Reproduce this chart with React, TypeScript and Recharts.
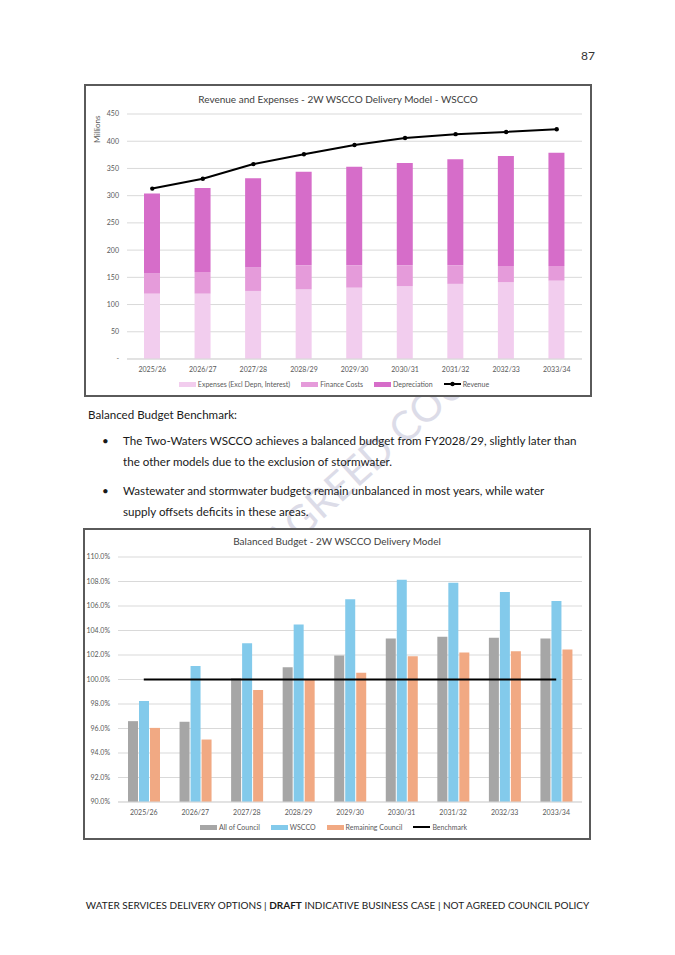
import React from 'react';
import { ComposedChart, Bar, Line, XAxis, YAxis, CartesianGrid, Legend } from 'recharts';

const years = ['2025/26', '2026/27', '2027/28', '2028/29', '2029/30', '2030/31', '2031/32', '2032/33', '2033/34'];

// chart 1 (Millions)
const expenses = [120, 120, 125, 128, 131, 134, 138, 141, 144];
const financeCosts = [37, 40, 43, 44, 41, 38, 34, 30, 27];
const depreciation = [147, 154, 164, 172, 181, 188, 195, 202, 208];
const revenue = [313, 331, 358, 376, 393, 406, 413, 417, 422];
const revTicks = [0, 50, 100, 150, 200, 250, 300, 350, 400, 450];
const revLegend = ['Expenses (Excl Depn, Interest)', 'Finance Costs', 'Depreciation', 'Revenue'];

// chart 2 (%)
const allCouncil = [96.6, 96.55, 100.1, 101.0, 101.95, 103.35, 103.5, 103.4, 103.35];
const wscco = [98.25, 101.1, 102.95, 104.5, 106.55, 108.15, 107.9, 107.15, 106.4];
const remainingCouncil = [96.05, 95.1, 99.15, 100.0, 100.55, 101.9, 102.2, 102.3, 102.45];
const benchmark = [100, 100, 100, 100, 100, 100, 100, 100, 100];
const pctTicks = [90, 92, 94, 96, 98, 100, 102, 104, 106, 108, 110];
const budgetLegend = ['All of Council', 'WSCCO', 'Remaining Council', 'Benchmark'];

const revData = years.map((y, i) => ({
  year: y,
  expenses: expenses[i],
  finance: financeCosts[i],
  depreciation: depreciation[i],
  revenue: revenue[i],
}));

const budgetData = years.map((y, i) => ({
  year: y,
  all: allCouncil[i],
  wscco: wscco[i],
  remaining: remainingCouncil[i],
  benchmark: benchmark[i],
}));

const FONT = 'Lato, "Liberation Sans", sans-serif';
const tickStyle = { fontSize: 7, fill: '#595959', fontFamily: FONT };

const LegendContent = (props: any) => {
  const order: string[] = props.order || [];
  const items = [...(props.payload || [])].sort((a: any, b: any) => order.indexOf(a.value) - order.indexOf(b.value));
  return (
    <div style={{ display: 'flex', justifyContent: 'center', alignItems: 'center', gap: 11, fontFamily: FONT, fontSize: 7, color: '#595959', height: 10 }}>
      {items.map((it: any) => (
        <div key={it.value} style={{ display: 'flex', alignItems: 'center' }}>
          {it.type === 'line' ? (
            <svg width={17} height={6} style={{ marginRight: 2 }}>
              <line x1={0} y1={3} x2={17} y2={3} stroke="#000" strokeWidth={2} />
              {props.lineDot ? <circle cx={8.5} cy={3} r={2.2} fill="#000" /> : null}
            </svg>
          ) : (
            <div style={{ width: 17, height: 5, background: it.color, marginRight: 2 }} />
          )}
          <span>{it.value}</span>
        </div>
      ))}
    </div>
  );
};

const frame: React.CSSProperties = {
  position: 'absolute',
  border: '2px solid #5a5a5a',
  background: '#fff',
  boxSizing: 'border-box',
};

const titleStyle: React.CSSProperties = {
  position: 'absolute',
  left: 0,
  width: '100%',
  textAlign: 'center',
  fontFamily: FONT,
  fontSize: 10,
  color: '#404040',
};

const bodyText: React.CSSProperties = {
  position: 'absolute',
  fontFamily: FONT,
  fontSize: 11.6,
  lineHeight: '21px',
  color: '#1a1a1a',
  whiteSpace: 'nowrap',
};

export default function App() {
  return (
    <div style={{ position: 'absolute', left: 0, top: 0, width: 675, height: 955, background: '#fff', overflow: 'hidden' }}>
      {/* watermark */}
      <svg width={675} height={955} style={{ position: 'absolute', left: 0, top: 0 }}>
        <g transform="translate(280,558) rotate(-42)">
          <text x={0} y={0} textAnchor="end" fontFamily={FONT} fontSize={40} fill="#dcdce8">NOT </text>
          <text x={0} y={0} textAnchor="start" fontFamily={FONT} fontSize={40} fill="#dcdce8">AGREED COUNCIL</text>
        </g>
      </svg>

      <div style={{ position: 'absolute', right: 80, top: 48, fontFamily: FONT, fontSize: 12, color: '#333' }}>87</div>

      {/* chart 1 */}
      <div style={{ ...frame, left: 84, top: 84, width: 508, height: 313 }}>
        <div style={{ ...titleStyle, top: 7 }}>Revenue and Expenses - 2W WSCCO Delivery Model - WSCCO</div>
        <div style={{ position: 'absolute', left: 6, top: 57, transform: 'rotate(-90deg)', transformOrigin: 'left top', fontFamily: FONT, fontSize: 8, color: '#595959', whiteSpace: 'nowrap' }}>
          Millions
        </div>
        <ComposedChart width={504} height={309} data={revData} margin={{ top: 28, right: 8, left: 0, bottom: 6 }}>
          <CartesianGrid vertical={false} stroke="#d9d9d9" />
          <XAxis dataKey="year" tick={tickStyle} tickLine={false} axisLine={{ stroke: '#d9d9d9' }} height={20} />
          <YAxis
            domain={[0, 450]}
            ticks={revTicks}
            width={41}
            tick={tickStyle}
            tickLine={false}
            axisLine={false}
            tickFormatter={(v: number) => (v === 0 ? '-' : String(v))}
          />
          <Legend verticalAlign="bottom" height={10} content={<LegendContent order={revLegend} lineDot />} />
          <Bar dataKey="expenses" name={revLegend[0]} stackId="a" fill="#f2cdee" barSize={16} isAnimationActive={false} />
          <Bar dataKey="finance" name={revLegend[1]} stackId="a" fill="#e59bda" barSize={16} isAnimationActive={false} />
          <Bar dataKey="depreciation" name={revLegend[2]} stackId="a" fill="#d66dc9" barSize={16} isAnimationActive={false} />
          <Line
            dataKey="revenue"
            name={revLegend[3]}
            stroke="#000"
            strokeWidth={2}
            dot={{ r: 2.2, fill: '#000', stroke: '#000', strokeWidth: 0 }}
            isAnimationActive={false}
          />
        </ComposedChart>
      </div>

      {/* text */}
      <div style={{ ...bodyText, left: 88, top: 404 }}>Balanced Budget Benchmark:</div>
      <div style={{ ...bodyText, left: 102, top: 430 }}>•</div>
      <div style={{ ...bodyText, left: 123, top: 430 }}>
        The Two-Waters WSCCO achieves a balanced budget from FY2028/29, slightly later than
        <br />
        the other models due to the exclusion of stormwater.
      </div>
      <div style={{ ...bodyText, left: 102, top: 480 }}>•</div>
      <div style={{ ...bodyText, left: 123, top: 480 }}>
        Wastewater and stormwater budgets remain unbalanced in most years, while water
        <br />
        supply offsets deficits in these areas.
      </div>

      {/* chart 2 */}
      <div style={{ ...frame, left: 83, top: 528, width: 508, height: 312 }}>
        <div style={{ ...titleStyle, top: 5 }}>Balanced Budget - 2W WSCCO Delivery Model</div>
        <ComposedChart width={504} height={308} data={budgetData} margin={{ top: 27, right: 7, left: 0, bottom: 6 }} barGap={1}>
          <CartesianGrid vertical={false} stroke="#d9d9d9" />
          <XAxis dataKey="year" tick={tickStyle} tickLine={false} axisLine={{ stroke: '#d9d9d9' }} height={20} />
          <YAxis
            domain={[90, 110]}
            ticks={pctTicks}
            width={33}
            tick={tickStyle}
            tickLine={false}
            axisLine={false}
            allowDataOverflow
            tickFormatter={(v: number) => v.toFixed(1) + '%'}
          />
          <Legend verticalAlign="bottom" height={10} content={<LegendContent order={budgetLegend} />} />
          <Bar dataKey="all" name={budgetLegend[0]} fill="#a6a6a6" barSize={10} isAnimationActive={false} />
          <Bar dataKey="wscco" name={budgetLegend[1]} fill="#83caeb" barSize={10} isAnimationActive={false} />
          <Bar dataKey="remaining" name={budgetLegend[2]} fill="#f1a983" barSize={10} isAnimationActive={false} />
          <Line dataKey="benchmark" name={budgetLegend[3]} stroke="#000" strokeWidth={2} dot={false} isAnimationActive={false} />
        </ComposedChart>
      </div>

      <div style={{ position: 'absolute', left: 0, width: 675, top: 899, textAlign: 'center', fontFamily: FONT, fontSize: 10, color: '#1a1a1a' }}>
        WATER SERVICES DELIVERY OPTIONS | <b>DRAFT</b> INDICATIVE BUSINESS CASE | NOT AGREED COUNCIL POLICY
      </div>
    </div>
  );
}
